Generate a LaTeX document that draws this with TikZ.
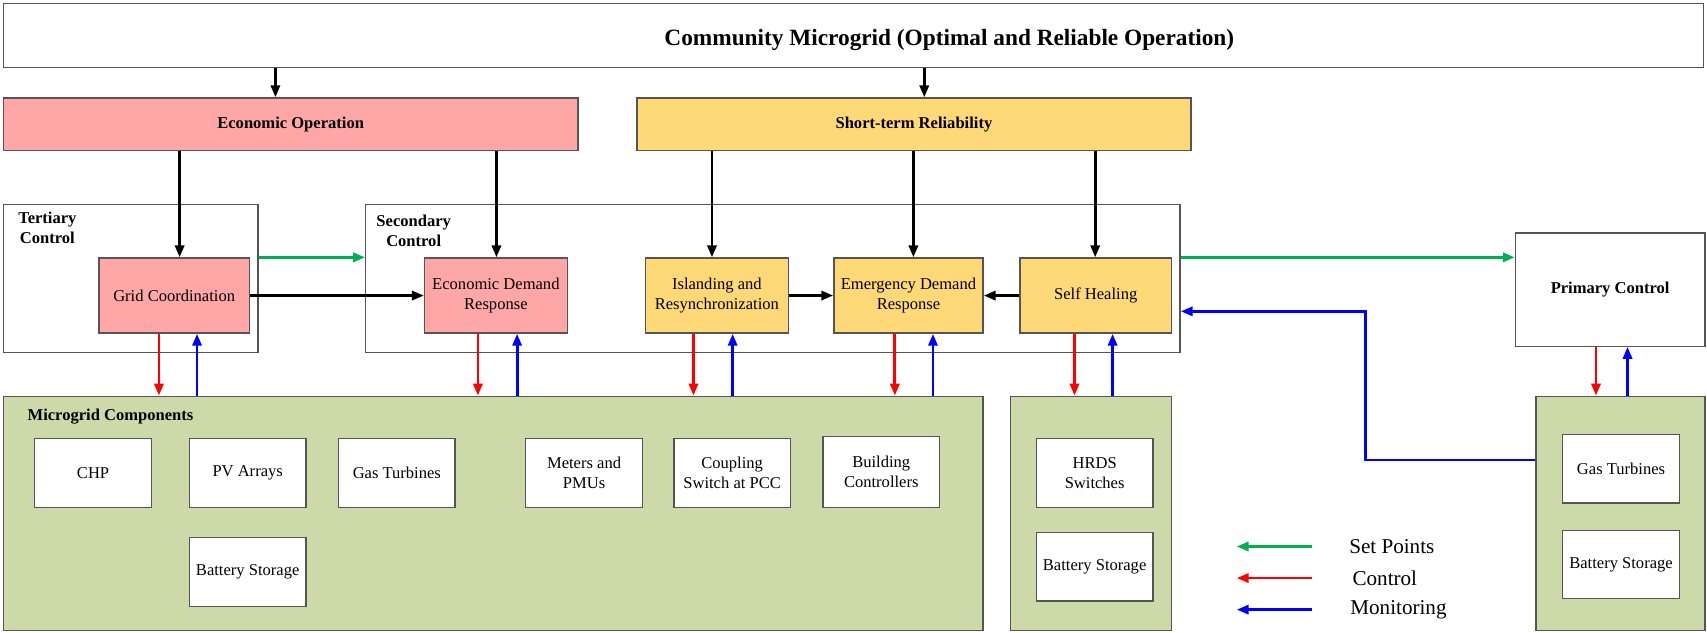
\documentclass[tikz,border=0pt]{standalone}
\usepackage{fontspec}
\setmainfont{Liberation Serif}
\usetikzlibrary{arrows.meta}
\definecolor{pinkf}{HTML}{FFA7A7}
\definecolor{yelf}{HTML}{FFD978}
\definecolor{grnf}{HTML}{CCDAAA}
\definecolor{setg}{HTML}{00B050}
\definecolor{edgec}{HTML}{555555}
\newcommand\bodyfont{\fontsize{7.6}{9.2}\selectfont}
\newcommand\ttlfont{\fontsize{10.7}{12}\selectfont}
\newcommand\lgfont{\fontsize{9.7}{11}\selectfont}
\tikzset{
  box/.style={draw=edgec, line width=0.6pt, inner sep=0pt, align=center, font=\bodyfont},
  sz/.style 2 args={minimum width={#1*0.5pt}, minimum height={#2*0.5pt}},
  pk/.style={box, fill=pinkf},
  yl/.style={box, fill=yelf},
  gr/.style={box, fill=grnf},
  comp/.style={box, fill=white, sz={107}{63}},
  lbl/.style={font=\bodyfont\bfseries, align=center, inner sep=0pt},
  arr/.style={line width=1.3pt, -{Triangle[length=5.5pt,width=4.2pt]}},
  blk/.style={arr, draw=black},
  ctl/.style={arr, draw=red},
  mon/.style={arr, draw=blue},
  setp/.style={arr, draw=setg}}
\begin{document}
\begin{tikzpicture}[x=0.5pt,y=-0.5pt]
\useasboundingbox (0,0) rectangle (1568,581);
% top
\node[box, sz={1562}{59}] (top) at (784,32.5) {};
\node[font=\ttlfont\bfseries, inner sep=0pt] (title) at (872,37) {Community Microgrid (Optimal and Reliable Operation)};
\node[pk, sz={528}{48}, font=\bodyfont\bfseries] (econ) at (267,114) {Economic Operation};
\node[yl, sz={509}{48}, font=\bodyfont\bfseries] (short) at (839.5,114) {Short-term Reliability};
% control frames
\node[box, sz={234}{136}] (tert) at (120,256) {};
\node[lbl] (tertl) at (43.5,209) {Tertiary\\Control};
\node[box, sz={748}{136}] (sec) at (710,256) {};
\node[lbl] (secl) at (380,212) {Secondary\\Control};
\node[box, sz={174}{104}, font=\bodyfont\bfseries] (prim) at (1479,266) {Primary Control};
% control blocks
\node[pk, sz={138}{69}] (grid) at (160,271.5) {Grid Coordination};
\node[pk, sz={131}{69}] (edr) at (455.5,271.5) {Economic Demand\\Response};
\node[yl, sz={131}{69}] (isl) at (658.5,271.5) {Islanding and\\Resynchronization};
\node[yl, sz={137}{69}] (emer) at (834.5,271.5) {Emergency Demand\\Response};
\node[yl, sz={139}{69}] (self) at (1006.5,271.5) {Self Healing};
% component areas
\node[gr, sz={900}{215}] (mc) at (453,471.5) {};
\node[lbl, anchor=west] (mcl) at (25,383) {Microgrid Components};
\node[gr, sz={148}{215}] (mc2) at (1002,471.5) {};
\node[gr, sz={155}{215}] (mc3) at (1488.5,471.5) {};
\node[comp] (chp) at (85.5,434.5) {CHP};
\node[comp] (pv) at (227.5,434.5) {PV Arrays};
\node[comp] (gas) at (364.5,434.5) {Gas Turbines};
\node[comp] (met) at (536.5,434.5) {Meters and\\PMUs};
\node[comp] (cpl) at (672.5,434.5) {Coupling\\Switch at PCC};
\node[comp, sz={107}{65}] (bld) at (809.5,433.5) {Building\\Controllers};
\node[comp] (bat1) at (227.5,525.5) {Battery Storage};
\node[comp] (hrds) at (1005.5,434.5) {HRDS\\Switches};
\node[comp] (bat2) at (1005.5,520.5) {Battery Storage};
\node[comp, sz={108}{63}] (gas3) at (1489,430.5) {Gas Turbines};
\node[comp, sz={108}{63}] (bat3) at (1489,518.5) {Battery Storage};
% black arrows
\draw[blk] (253,0 |- top.south) -- (253,0 |- econ.north);
\draw[blk] (849,0 |- top.south) -- (849,0 |- short.north);
\draw[blk] (165,0 |- econ.south) -- (165,0 |- grid.north);
\draw[blk] (456,0 |- econ.south) -- (456,0 |- edr.north);
\draw[blk] (654,0 |- short.south) -- (654,0 |- isl.north);
\draw[blk] (839,0 |- short.south) -- (839,0 |- emer.north);
\draw[blk] (1006,0 |- short.south) -- (1006,0 |- self.north);
\draw[blk] (grid.east) -- (edr.west);
\draw[blk] (isl.east) -- (emer.west);
\draw[blk] (self.west) -- (emer.east);
% set points
\draw[setp] (tert.east |- grid.north) -- (sec.west |- grid.north);
\draw[setp] (sec.east |- grid.north) -- (prim.west |- grid.north);
% control / monitoring
\draw[ctl] (146,0 |- grid.south) -- (146,0 |- mc.north);
\draw[mon] (181,0 |- mc.north) -- (181,0 |- grid.south);
\draw[ctl] (439,0 |- edr.south) -- (439,0 |- mc.north);
\draw[mon] (475,0 |- mc.north) -- (475,0 |- edr.south);
\draw[ctl] (637,0 |- isl.south) -- (637,0 |- mc.north);
\draw[mon] (673,0 |- mc.north) -- (673,0 |- isl.south);
\draw[ctl] (822,0 |- emer.south) -- (822,0 |- mc.north);
\draw[mon] (857,0 |- mc.north) -- (857,0 |- emer.south);
\draw[ctl] (987,0 |- self.south) -- (987,0 |- mc2.north);
\draw[mon] (1022,0 |- mc2.north) -- (1022,0 |- self.south);
\draw[ctl] (1466,0 |- prim.south) -- (1466,0 |- mc3.north);
\draw[mon] (1495,0 |- mc3.north) -- (1495,0 |- prim.south);
\draw[mon] (mc3.west |- 0,422.5) -- (1254,422.5) -- (1254,286) -- (sec.east |- 0,286);
% legend
\coordinate (l1a) at (1205,502); \coordinate (l1b) at (1136,502);
\coordinate (l2a) at (1205,531); \coordinate (l2b) at (1136,531);
\coordinate (l3a) at (1205,560); \coordinate (l3b) at (1136,560);
\draw[setp] (l1a) -- (l1b);
\draw[ctl] (l2a) -- (l2b);
\draw[mon] (l3a) -- (l3b);
\node[font=\lgfont, anchor=west, inner sep=0pt] (t1) at (1239,502) {Set Points};
\node[font=\lgfont, anchor=west, inner sep=0pt] (t2) at (1242,531) {Control};
\node[font=\lgfont, anchor=west, inner sep=0pt] (t3) at (1240,560) {Monitoring};
\end{tikzpicture}
\end{document}
